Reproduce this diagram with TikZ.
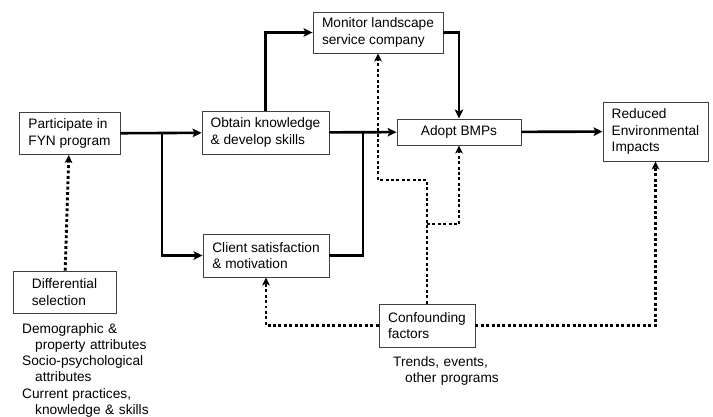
\documentclass[tikz,border=0pt]{standalone}
\usepackage{fontspec}
\setmainfont{Liberation Sans}
\usepackage{tikz}
\usetikzlibrary{arrows.meta,positioning}

\begin{document}
\begin{tikzpicture}[x=1pt,y=-1pt,
      mybox/.style={
         rectangle,
         draw=black!75,
         line width=0.9pt,
         align=left,
         inner sep=0pt,
         font=\fontsize{13.7}{16.5}\selectfont},
      mynote/.style={
         anchor=base west,
         align=left,
         inner sep=0pt,
         font=\fontsize{13.7}{16.3}\selectfont},
      myline/.style={line width=2.6pt},
      myarrow/.style={myline,-{Stealth[length=9pt,width=8.5pt,inset=2pt]}},
      mydots/.style={line width=2.9pt,dash pattern=on 2.9pt off 2.5pt,
         -{Stealth[length=8pt,width=7.5pt,inset=2pt]}}
      ]
      \useasboundingbox (0,0) rectangle (713,417);

      \node[mybox, minimum width=101pt, minimum height=42pt] (part) at (69.5,133.5) {Participate in\\FYN program};
      \node[mybox, minimum width=127pt, minimum height=43pt] (obtain) at (265.5,132.5) {Obtain knowledge\\\& develop skills};
      \node[mybox, minimum width=130pt, minimum height=41pt] (monitor) at (378,32.5) {Monitor landscape\\service company};
      \node[mybox, minimum width=124pt, minimum height=26pt, align=center] (adopt) at (459,132) {Adopt BMPs};
      \node[mybox, minimum width=105pt, minimum height=59pt] (reduced) at (655.5,131.5) {Reduced\\Environmental\\Impacts};
      \node[mybox, minimum width=126pt, minimum height=43pt] (client) at (266,255.5) {Client satisfaction\\\& motivation};
      \node[mybox, minimum width=96pt, minimum height=43pt] (conf) at (427,325.5) {Confounding\\factors};
      \node[mybox, minimum width=103pt, minimum height=42pt] (diff) at (64.5,292) {Differential\\selection};

      \node[mynote, text width=150pt] (diffnote) at (22,333) {Demographic \&\\\hspace*{13pt}property attributes\\Socio-psychological\\\hspace*{13pt}attributes\\Current practices,\\\hspace*{13pt}knowledge \& skills};
      \node[mynote, text width=120pt] (confnote) at (393,366) {Trends, events,\\\hspace*{12pt}other programs};

      % junctions
      \coordinate (split) at (162,133.5);
      \coordinate (merge) at (363,132.5);
      \coordinate (up) at (427,180);
      \coordinate (mid) at (427,224);

      % solid paths
      \draw[myarrow] (part) -- (obtain);
      \draw[myarrow] (split) |- (client);
      \draw[myarrow] (obtain.north) |- (monitor);
      \draw[myarrow] (monitor) -| (adopt);
      \draw[myarrow] (obtain) -- (adopt);
      \draw[myline] (client) -| (merge);
      \draw[myarrow] (adopt) -- (reduced);
      %
      % dotted paths
      \draw[mydots] (diff) -- (part);
      \draw[mydots] (conf) -- (up) -| (monitor);
      \draw[mydots] (mid) -| (adopt);
      \draw[mydots] (conf) -| (client);
      \draw[mydots] (conf) -| (reduced);

    \end{tikzpicture}
\end{document}
